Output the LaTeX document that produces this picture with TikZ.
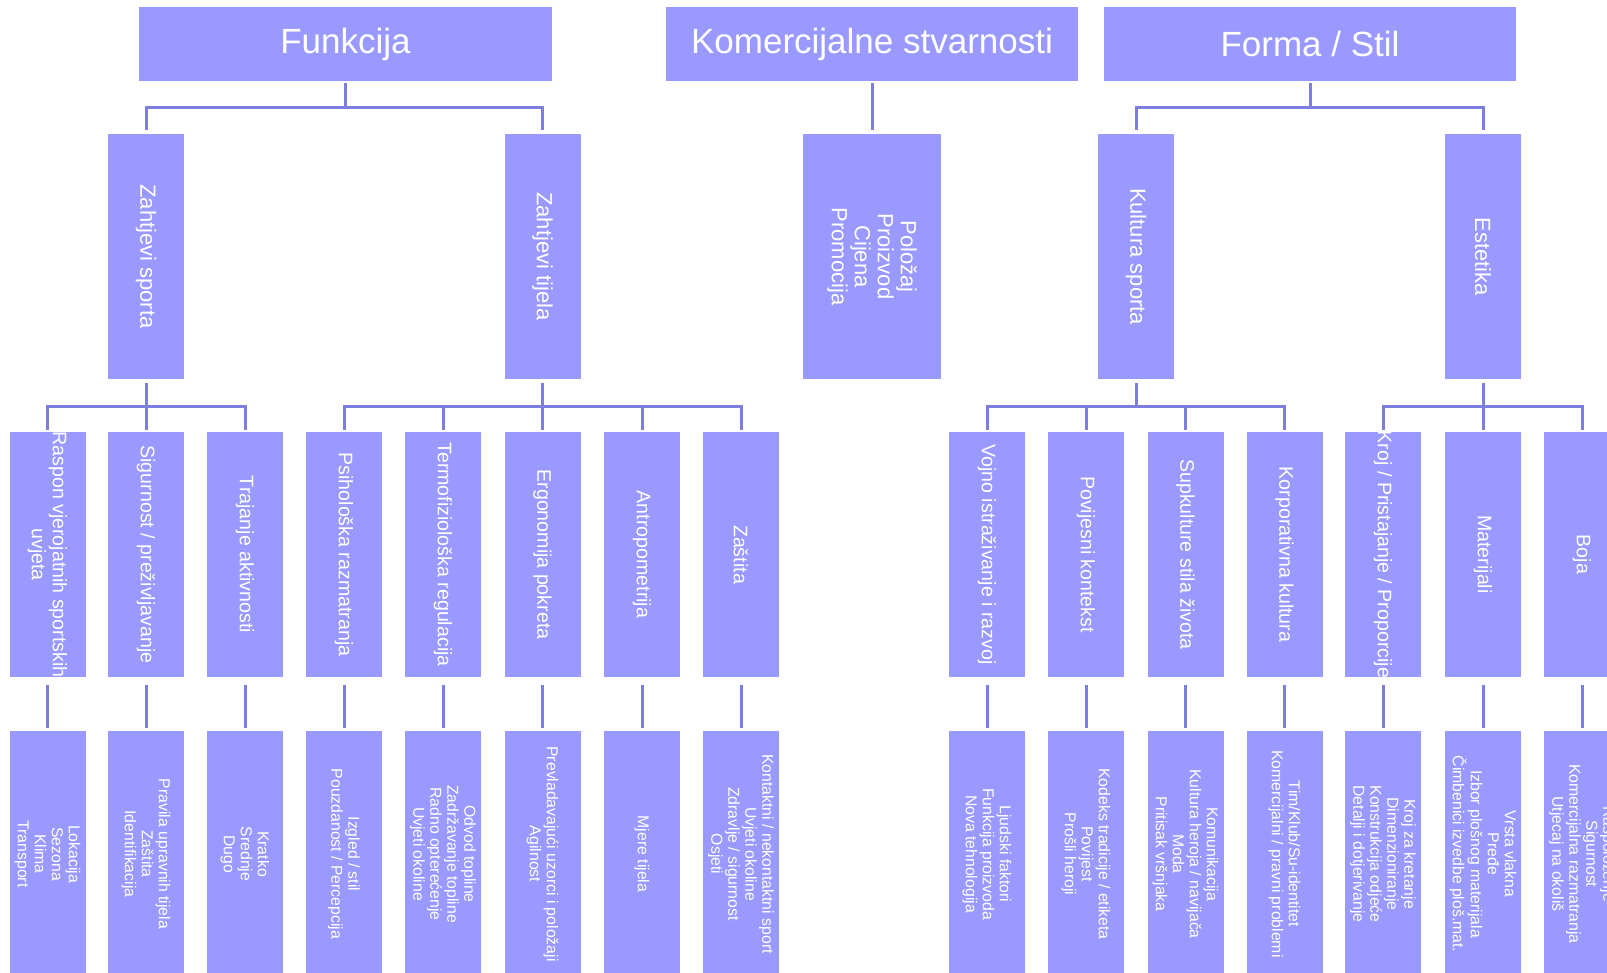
\documentclass[tikz,border=0pt]{standalone}
\usepackage{fontspec}
\setmainfont{Liberation Sans}
\definecolor{boxc}{RGB}{153,153,255}
\definecolor{linec}{RGB}{126,126,222}
\begin{document}
\begin{tikzpicture}[x=1pt,y=-1pt,
 box/.style={fill=boxc, draw=none, inner sep=0pt, minimum width=76pt, minimum height=245pt},
 box4/.style={box, minimum height=246pt},
 topbox/.style={fill=boxc, draw=none, inner sep=0pt, minimum width=412pt, minimum height=74pt, text=white, font=\fontsize{35}{40}\selectfont},
 vt/.style={rotate=-90, text=white, align=center, inner sep=0pt},
 t2/.style={vt, font=\fontsize{22}{23}\selectfont},
 t3/.style={vt, font=\fontsize{19.6}{21}\selectfont},
 t4/.style={vt, font=\fontsize{15.8}{17}\selectfont},
 conn/.style={draw=linec, line width=3pt}]
\useasboundingbox (0,0) rectangle (1607,973);
\clip (0,0) rectangle (1607,973);
\fill[white] (0,0) rectangle (1607,973);
% top level
\node[topbox, minimum width=413pt] (fun) at (345.5,44) {Funkcija};
\node[topbox] (kom) at (872,44) {Komercijalne stvarnosti};
\node[topbox] (frm) at (1310,44) {Forma / Stil};
% level 2
\node[box] (zs) at (146,256.5) {};
\node[t2] (zs-t) at (zs) {Zahtjevi sporta};
\node[box] (zt) at (542.5,256.5) {};
\node[t2] (zt-t) at (zt) {Zahtjevi tijela};
\node[box, minimum width=138pt] (pol) at (872,256.5) {};
\node[t2] (pol-t) at (pol) {Položaj\\Proizvod\\Cijena\\Promocija};
\node[box] (ks) at (1136,256.5) {};
\node[t2] (ks-t) at (ks) {Kultura sporta};
\node[box] (est) at (1483,256.5) {};
\node[t2] (est-t) at (est) {Estetika};
% level 3
\node[box] (a1) at (47.5,554.5) {};
\node[t3] (a1-t) at (a1) {Raspon vjerojatnih sportskih\\uvjeta};
\node[box] (a2) at (146,554.5) {};
\node[t3] (a2-t) at (a2) {Sigurnost / preživljavanje};
\node[box] (a3) at (245,554.5) {};
\node[t3] (a3-t) at (a3) {Trajanje aktivnosti};
\node[box] (a4) at (344,554.5) {};
\node[t3] (a4-t) at (a4) {Psihološka razmatranja};
\node[box] (a5) at (443,554.5) {};
\node[t3] (a5-t) at (a5) {Termofiziološka regulacija};
\node[box] (a6) at (542.5,554.5) {};
\node[t3] (a6-t) at (a6) {Ergonomija pokreta};
\node[box] (a7) at (642,554.5) {};
\node[t3] (a7-t) at (a7) {Antropometrija};
\node[box] (a8) at (741,554.5) {};
\node[t3] (a8-t) at (a8) {Zaštita};
\node[box] (c1) at (987,554.5) {};
\node[t3] (c1-t) at (c1) {Vojno istraživanje i razvoj};
\node[box] (c2) at (1086,554.5) {};
\node[t3] (c2-t) at (c2) {Povijesni kontekst};
\node[box] (c3) at (1185.5,554.5) {};
\node[t3] (c3-t) at (c3) {Supkulture stila života};
\node[box] (c4) at (1284.5,554.5) {};
\node[t3] (c4-t) at (c4) {Korporativna kultura};
\node[box] (c5) at (1383,554.5) {};
\node[t3] (c5-t) at (c5) {Kroj / Pristajanje / Proporcije};
\node[box] (c6) at (1483,554.5) {};
\node[t3] (c6-t) at (c6) {Materijali};
\node[box] (c7) at (1582,554.5) {};
\node[t3] (c7-t) at (c7) {Boja};
% level 4
\node[box4] (b1) at (47.5,854) {};
\node[t4] (b1-t) at (b1) {Lokacija\\Sezona\\Klima\\Transport};
\node[box4] (b2) at (146,854) {};
\node[t4] (b2-t) at (b2) {Pravila upravnih tijela\\Zaštita\\Identifikacija};
\node[box4] (b3) at (245,854) {};
\node[t4] (b3-t) at (b3) {Kratko\\Srednje\\Dugo};
\node[box4] (b4) at (344,854) {};
\node[t4] (b4-t) at (b4) {Izgled / stil\\Pouzdanost / Percepcija};
\node[box4] (b5) at (443,854) {};
\node[t4] (b5-t) at (b5) {Odvod topline\\Zadržavanje topline\\Radno opterećenje\\Uvjeti okoline};
\node[box4] (b6) at (542.5,854) {};
\node[t4] (b6-t) at (b6) {Prevladavajući uzorci i položaji\\Agilnost};
\node[box4] (b7) at (642,854) {};
\node[t4] (b7-t) at (b7) {Mjere tijela};
\node[box4] (b8) at (741,854) {};
\node[t4] (b8-t) at (b8) {Kontaktni / nekontaktni sport\\Uvjeti okoline\\Zdravlje / sigurnost\\Osjeti};
\node[box4] (d1) at (987,854) {};
\node[t4] (d1-t) at (d1) {Ljudski faktori\\Funkcija proizvoda\\Nova tehnologija};
\node[box4] (d2) at (1086,854) {};
\node[t4] (d2-t) at (d2) {Kodeks tradicije / etiketa\\Povijest\\Prošli heroji};
\node[box4] (d3) at (1185.5,854) {};
\node[t4] (d3-t) at (d3) {Komunikacija\\Kultura heroja / navijača\\Moda\\Pritisak vršnjaka};
\node[box4] (d4) at (1284.5,854) {};
\node[t4] (d4-t) at (d4) {Tim/Klub/Su-identitet\\Komercijalni / pravni problemi};
\node[box4] (d5) at (1383,854) {};
\node[t4] (d5-t) at (d5) {Kroj za kretanje\\Dimenzioniranje\\Konstrukcija odjeće\\Detalji i dotjerivanje};
\node[box4] (d6) at (1483,854) {};
\node[t4] (d6-t) at (d6) {Vrsta vlakna\\Pređe\\Izbor plošnog materijala\\Čimbenici izvedbe ploš.mat.};
\node[box4] (d7) at (1582,854) {};
\node[t4] (d7-t) at (d7) {Raspoloženje\\Sigurnost\\Komercijalna razmatranja\\Utjecaj na okoliš};
% connectors level 1 -> 2
\coordinate (fj) at ([yshift=-26pt]fun.south);
\draw[conn] ([yshift=-2pt]fun.south) -- (fj);
\draw[conn] (fj) -| ([yshift=4pt]zs.north);
\draw[conn] (fj) -| ([yshift=4pt]zt.north);
\draw[conn] ([yshift=-2pt]kom.south) -- ([yshift=4pt]pol.north);
\coordinate (mj) at ([yshift=-26pt]frm.south);
\draw[conn] ([yshift=-2pt]frm.south) -- (mj);
\draw[conn] (mj) -| ([yshift=4pt]ks.north);
\draw[conn] (mj) -| ([yshift=4pt]est.north);
% connectors level 2 -> 3
\coordinate (zsj) at ([yshift=-27pt]zs.south);
\draw[conn] ([yshift=-4pt]zs.south) -- (zsj);
\foreach \c in {a1,a2,a3} \draw[conn] (zsj) -| ([yshift=2pt]\c.north);
\coordinate (ztj) at ([yshift=-27pt]zt.south);
\draw[conn] ([yshift=-4pt]zt.south) -- (ztj);
\foreach \c in {a4,a5,a6,a7,a8} \draw[conn] (ztj) -| ([yshift=2pt]\c.north);
\coordinate (ksj) at ([yshift=-27pt]ks.south);
\draw[conn] ([yshift=-4pt]ks.south) -- (ksj);
\foreach \c in {c1,c2,c3,c4} \draw[conn] (ksj) -| ([yshift=2pt]\c.north);
\coordinate (estj) at ([yshift=-27pt]est.south);
\draw[conn] ([yshift=-4pt]est.south) -- (estj);
\foreach \c in {c5,c6,c7} \draw[conn] (estj) -| ([yshift=2pt]\c.north);
% connectors level 3 -> 4
\foreach \p/\q in {a1/b1,a2/b2,a3/b3,a4/b4,a5/b5,a6/b6,a7/b7,a8/b8,c1/d1,c2/d2,c3/d3,c4/d4,c5/d5,c6/d6,c7/d7}
  \draw[conn] ([yshift=-8pt]\p.south) -- ([yshift=3pt]\q.north);
\end{tikzpicture}
\end{document}
